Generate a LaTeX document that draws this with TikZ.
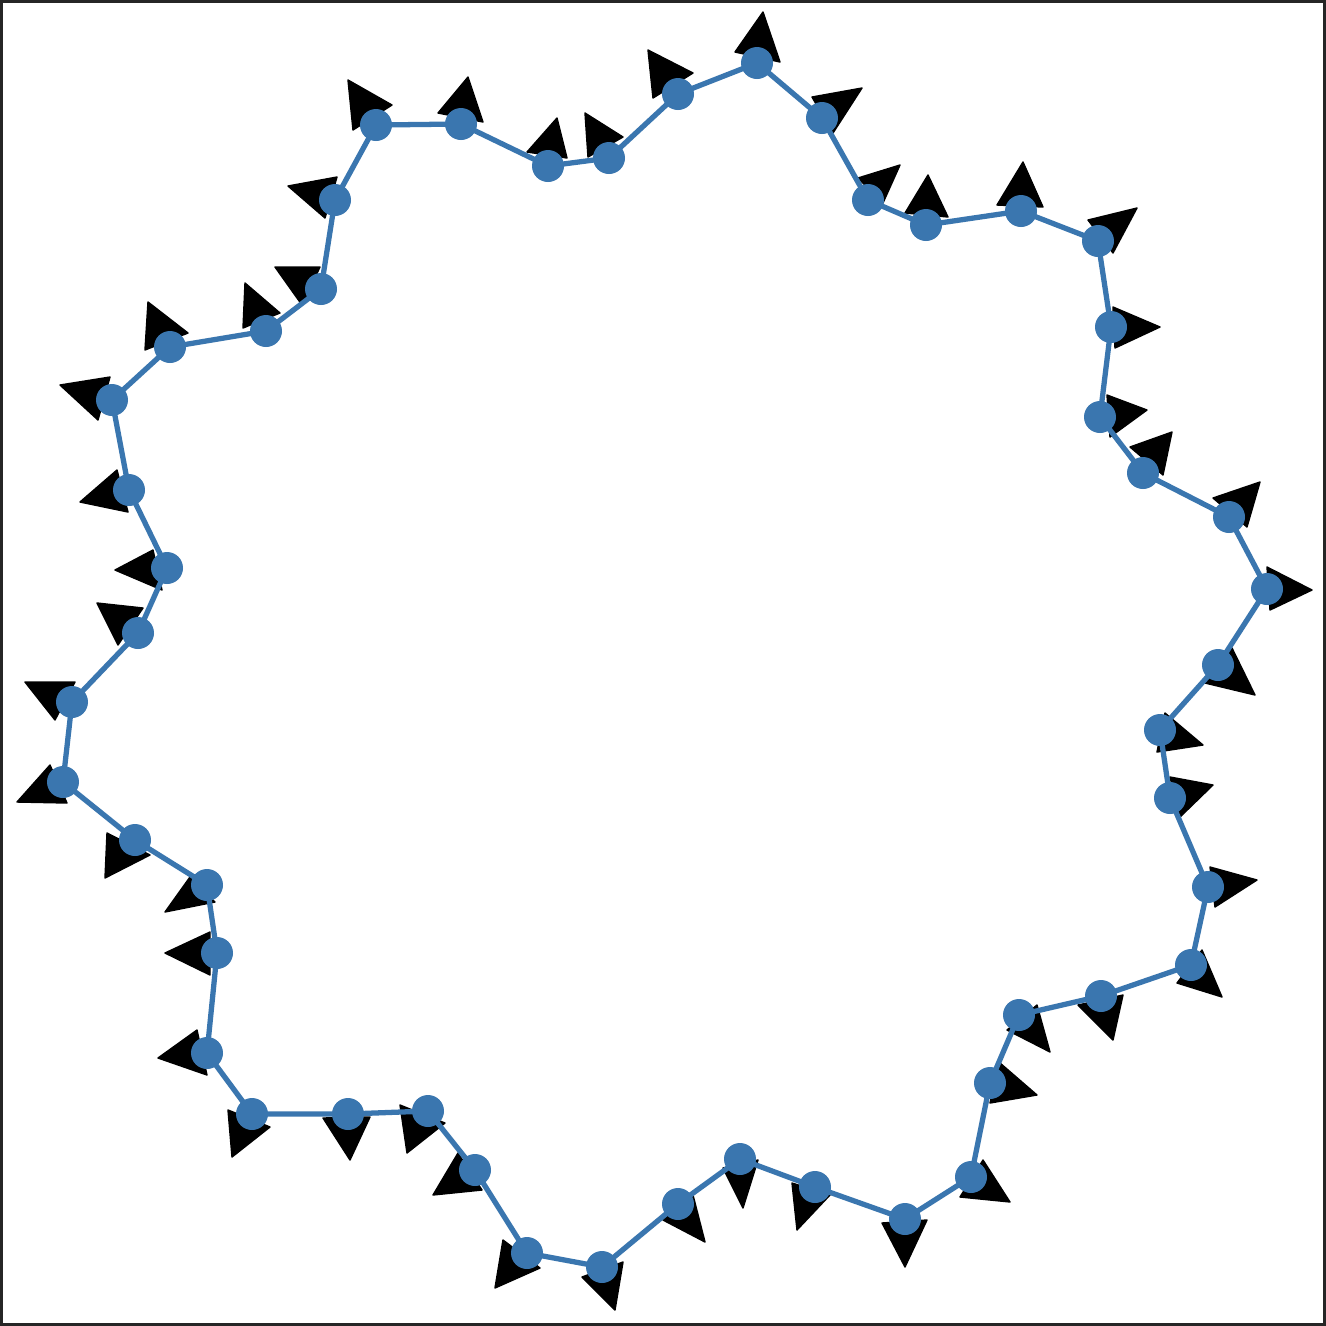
\documentclass[tikz,border=0pt]{standalone}
\definecolor{pblue}{RGB}{58,118,175}
\tikzset{
  tri/.style={fill=black, draw=black, line width=0.4pt, line join=round},
  polyline/.style={draw=pblue, line width=1.5pt, line join=round},
  dot/.style={fill=pblue},
  frame/.style={draw=black!85, line width=0.9pt}
}
\begin{document}
\begin{tikzpicture}[x=0.01cm, y=-0.01cm]
\useasboundingbox (0,0) rectangle (1326,1326);
\fill[white] (0,0) rectangle (1326,1326);
% points
\foreach \i/\x/\y in {1/757/63,2/822/118,3/868/200,4/926/225,5/1021/211,6/1098/241,7/1111/327,8/1100/417,9/1143/473,10/1229/517,11/1267/589,12/1218/665,13/1160/730,14/1170/798,15/1208/887,16/1191/965,17/1101/996,18/1019/1015,19/990/1083,20/971/1177,21/905/1219,22/815/1187,23/740/1159,24/678/1204,25/602/1267,26/527/1253,27/475/1170,28/428/1111,29/348/1114,30/252/1114,31/207/1053,32/217/953,33/207/885,34/135/840,35/63/782,36/72/702,37/138/633,38/167/568,39/129/490,40/112/400,41/170/347,42/266/331,43/321/289,44/335/200,45/376/125,46/461/124,47/548/166,48/609/158,49/678/94}
  \coordinate (p\i) at (\x,\y);
% triangles
\foreach \a/\b/\c/\d/\e/\f in {
735/52/780/62/763/12, 812/97/862/88/833/133, 858/178/900/165/883/203,
928/175/905/213/948/217, 1023/162/997/205/1043/207, 1088/220/1137/208/1113/253,
1113/307/1160/327/1115/348, 1107/395/1147/410/1110/437, 1130/447/1172/432/1163/475,
1213/498/1260/482/1247/527, 1267/567/1312/590/1270/610, 1232/648/1255/695/1205/683,
1165/713/1203/745/1157/752, 1170/777/1213/785/1180/817, 1210/867/1257/880/1215/907,
1202/950/1222/997/1177/983, 1078/1005/1123/995/1113/1040, 1007/1030/1037/1005/1050/1052,
1000/1063/1037/1095/990/1103, 983/1160/1010/1202/960/1197, 882/1223/927/1220/905/1267,
792/1183/830/1195/797/1230, 723/1168/758/1160/743/1208, 663/1220/693/1195/705/1242,
582/1277/623/1262/615/1310, 503/1240/540/1268/495/1288, 458/1153/482/1190/433/1195,
400/1105/445/1123/407/1153, 323/1118/370/1117/350/1160, 228/1110/270/1127/232/1157,
158/1058/197/1030/207/1075, 165/953/210/932/210/975, 190/877/215/902/165/912,
107/833/150/855/105/878, 17/802/50/765/67/803, 25/682/75/682/55/720,
97/603/143/608/118/645, 115/570/153/550/162/590, 80/502/117/470/128/512,
60/385/110/377/98/420, 148/302/188/333/145/350, 245/283/280/313/243/328,
275/267/320/267/302/305, 288/186/337/177/325/218, 348/80/392/105/353/130,
468/77/438/113/483/122, 557/118/527/152/567/158, 585/113/623/137/588/157,
648/50/693/73/653/98}
  \draw[tri] (\a,\b) -- (\c,\d) -- (\e,\f) -- cycle;
% polygon
\draw[polyline] (p1) -- (p2) -- (p3) -- (p4) -- (p5) -- (p6) -- (p7) -- (p8) -- (p9) -- (p10)
 -- (p11) -- (p12) -- (p13) -- (p14) -- (p15) -- (p16) -- (p17) -- (p18) -- (p19) -- (p20)
 -- (p21) -- (p22) -- (p23) -- (p24) -- (p25) -- (p26) -- (p27) -- (p28) -- (p29) -- (p30)
 -- (p31) -- (p32) -- (p33) -- (p34) -- (p35) -- (p36) -- (p37) -- (p38) -- (p39) -- (p40)
 -- (p41) -- (p42) -- (p43) -- (p44) -- (p45) -- (p46) -- (p47) -- (p48) -- (p49) -- cycle;
% dots
\foreach \i in {1,...,49}
  \fill[dot] (p\i) circle[radius=16];
% frame
\draw[frame] (1.5,1.5) rectangle (1324.5,1324.5);
\end{tikzpicture}
\end{document}
